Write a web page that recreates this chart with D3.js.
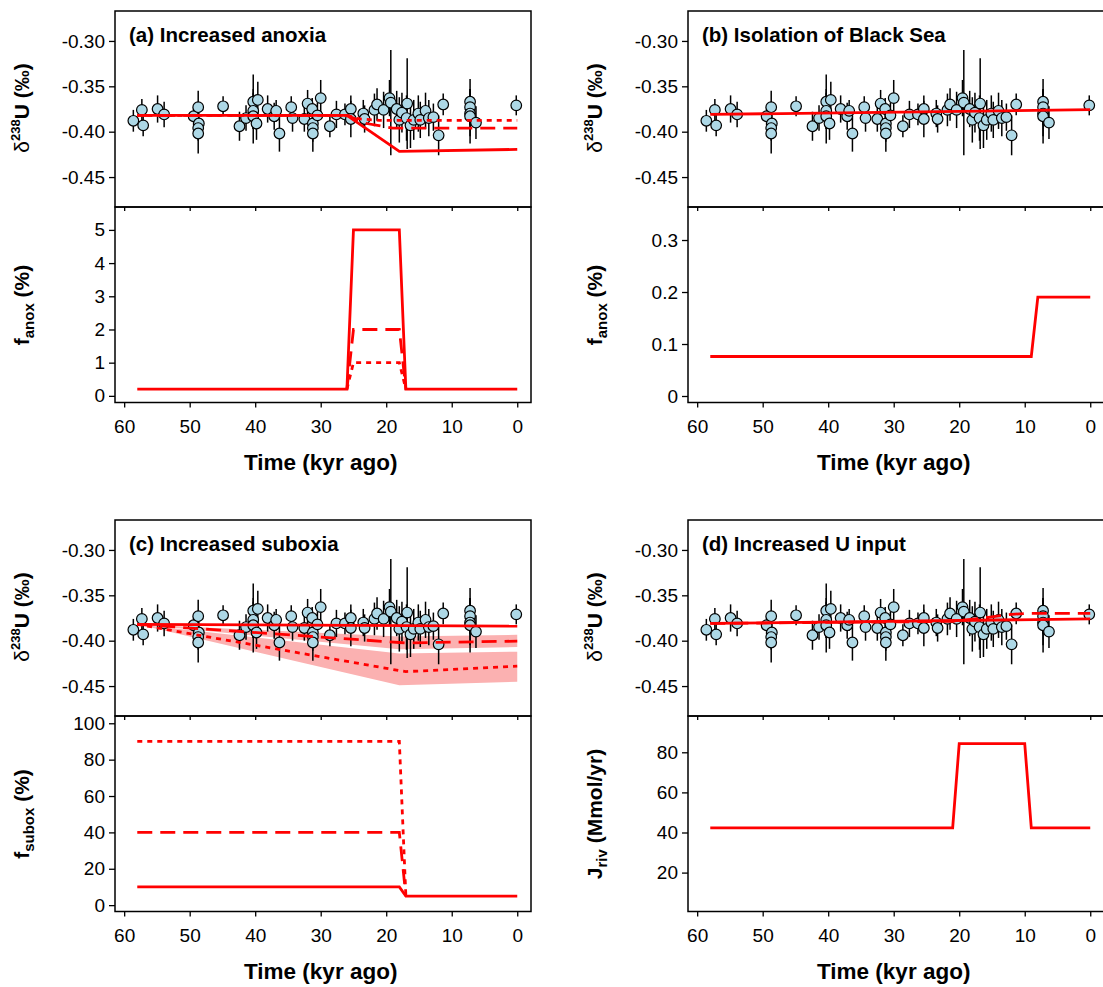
<!DOCTYPE html>
<html>
<head>
<meta charset="utf-8">
<script src="https://cdn.jsdelivr.net/npm/d3@7"></script>
<style>
  body { margin: 0; background: #fff; }
  svg text { font-family: "Liberation Sans", Arial, Helvetica, sans-serif; fill: #000; }
</style>
</head>
<body>
<svg id="fig" width="1103" height="987"></svg>
<script>
// measured d238U record (age kyr, value permil, 1 sd error)
var ages = [58.6,57.3,57.1,54.9,53.9,49.4,48.7,48.6,48.7,48.7,44.9,42.4,41.4,40.3,39.6,40.3,40.3,39.8,38.1,37.1,
  36.8,36.3,34.5,34.3,32.5,32.0,31.3,31.2,31.2,31.2,30.5,30.0,28.6,27.6,26.3,25.4,25.4,23.5,23.3,21.8,
  21.4,20.4,19.5,19.3,18.4,18.0,17.6,16.8,16.9,16.3,15.8,15.1,14.8,14.0,13.5,12.8,12.0,11.3,7.2,7.2,
  7.2,7.2,6.3,0.15];
var d238U = [-0.388,-0.376,-0.393,-0.375,-0.381,-0.383,-0.373,-0.391,-0.396,-0.402,-0.372,-0.394,-0.385,-0.367,-0.365,-0.377,-0.383,-0.391,-0.375,-0.383,
  -0.377,-0.402,-0.373,-0.385,-0.386,-0.369,-0.375,-0.391,-0.396,-0.402,-0.382,-0.363,-0.394,-0.381,-0.381,-0.375,-0.386,-0.380,-0.386,-0.376,
  -0.370,-0.376,-0.363,-0.368,-0.375,-0.387,-0.379,-0.369,-0.385,-0.393,-0.387,-0.380,-0.387,-0.377,-0.385,-0.384,-0.404,-0.370,-0.367,-0.373,
  -0.380,-0.383,-0.390,-0.371];
var d238Uerr = [0.012,0.012,0.012,0.015,0.014,0.010,0.018,0.014,0.014,0.022,0.011,0.016,0.014,0.030,0.020,0.020,0.030,0.018,0.015,0.015,
  0.012,0.020,0.012,0.015,0.014,0.015,0.012,0.015,0.015,0.020,0.014,0.020,0.012,0.015,0.012,0.015,0.020,0.015,0.015,0.018,
  0.018,0.020,0.020,0.058,0.020,0.025,0.022,0.050,0.025,0.025,0.022,0.020,0.020,0.020,0.020,0.015,0.022,0.012,0.025,0.020,
  0.025,0.030,0.018,0.011];

var xTicks = [60, 50, 40, 30, 20, 10, 0];
var topTicks = [-0.30, -0.35, -0.40, -0.45];

// (a) increased anoxia
var aTopSolid  = [[58,-0.382],[26,-0.382],[18,-0.4217],[0,-0.4195]];
var aTopDashed = [[58,-0.382],[26,-0.382],[23,-0.391],[19,-0.396],[0,-0.396]];
var aTopDotted = [[58,-0.382],[26,-0.382],[24,-0.386],[21,-0.3875],[0,-0.3875]];
var aFSolid  = [[58,0.2],[26,0.2],[25,5],[18,5],[17,0.2],[0,0.2]];
var aFDashed = [[26,0.2],[25,2],[18,2],[17,0.2]];
var aFDotted = [[26,0.2],[25,1],[18,1],[17,0.2]];
var aTicks = [0, 1, 2, 3, 4, 5];

// (b) isolation of Black Sea
var bTopSolid = [[58,-0.381],[0,-0.3757]];
var bFSolid = [[58,0.076],[9,0.076],[8,0.19],[0,0.19]];
var bTicks = [0, 0.1, 0.2, 0.3];

// (c) increased suboxia
var cTopSolid  = [[58,-0.382],[0,-0.384]];
var cTopDashed = [[58,-0.382],[18,-0.402],[17,-0.4025],[0,-0.4005]];
var cTopDotted = [[58,-0.382],[18,-0.433],[17,-0.434],[12,-0.4325],[0,-0.428]];
var cBandDashed = [[58,-0.382,-0.382],[18,-0.3955,-0.4095],[0,-0.3935,-0.4070]];
var cBandDotted = [[58,-0.382,-0.382],[18,-0.414,-0.449],[0,-0.4121,-0.4452]];
var cFSolid  = [[58,10],[18,10],[17,5],[0,5]];
var cFDashed = [[58,40],[18,40],[17,5]];
var cFDotted = [[58,90],[18,90],[17,5]];
var cTicks = [0, 20, 40, 60, 80, 100];

// (d) increased U input
var dTopSolid  = [[58,-0.381],[0,-0.376]];
var dTopDashed = [[58,-0.381],[21,-0.3787],[17,-0.3755],[12,-0.371],[10,-0.370],[0,-0.370]];
var dJSolid = [[58,42.3],[21,42.3],[20,84.3],[10,84.3],[9,42.3],[0,42.3]];
var dTicks = [20, 40, 60, 80];

var svg = d3.select('#fig');
var RED = '#ff0000';
var dashStyle = { solid: null, dashed: '15,8', dotted: '5,5' };

var panels = [
  { col: [115, 531], row: 0, title: '(a) Increased anoxia',
    lines: { solid: aTopSolid, dashed: aTopDashed, dotted: aTopDotted }, bands: [],
    bDomain: [-0.2, 5.69], bTicks: aTicks, bFormat: d3.format('d'),
    bLines: { solid: aFSolid, dashed: aFDashed, dotted: aFDotted },
    bLabel: ['f', 'anox', ' (%)'] },
  { col: [688, 1104], row: 0, title: '(b) Isolation of Black Sea',
    lines: { solid: bTopSolid }, bands: [],
    bDomain: [-0.0125, 0.3635], bTicks: bTicks, bFormat: function (d) { return d === 0 ? '0' : d.toFixed(1); },
    bLines: { solid: bFSolid },
    bLabel: ['f', 'anox', ' (%)'] },
  { col: [115, 531], row: 509, title: '(c) Increased suboxia',
    lines: { solid: cTopSolid, dashed: cTopDashed, dotted: cTopDotted }, bands: [cBandDashed, cBandDotted],
    bDomain: [-3.5, 104], bTicks: cTicks, bFormat: d3.format('d'),
    bLines: { solid: cFSolid, dashed: cFDashed, dotted: cFDotted },
    bLabel: ['f', 'subox', ' (%)'] },
  { col: [688, 1104], row: 509, title: '(d) Increased U input',
    lines: { solid: dTopSolid, dashed: dTopDashed }, bands: [],
    bDomain: [0.6, 98.1], bTicks: dTicks, bFormat: d3.format('d'),
    bLines: { solid: dJSolid },
    bLabel: ['J', 'riv', ' (Mmol/yr)'] }
];

panels.forEach(drawPanel);

function styleAxis(g) {
  g.select('.domain').remove();
  g.attr('font-size', 19).attr('font-family', '"Liberation Sans", Arial, sans-serif');
  g.selectAll('.tick line').attr('stroke', '#000').attr('stroke-width', 1.3);
}

function drawPanel(p) {
  var x0 = p.col[0], x1 = p.col[1];
  var top0 = p.row + 11, mid = p.row + 207, bot = p.row + 402.5;
  var x = d3.scaleLinear().domain([61.4, -2.1]).range([x0, x1]);
  var yTop = d3.scaleLinear().domain([-0.483, -0.267]).range([mid, top0]);
  var yBot = d3.scaleLinear().domain(p.bDomain).range([bot, mid]);
  var g = svg.append('g');

  // upper panel: model uncertainty bands
  var area = d3.area().x(function (d) { return x(d[0]); })
    .y0(function (d) { return yTop(d[1]); }).y1(function (d) { return yTop(d[2]); });
  p.bands.forEach(function (b) {
    g.append('path').attr('d', area(b)).attr('fill', '#fbb1b1').attr('stroke', 'none');
  });

  // data with error bars
  var pts = d3.range(ages.length);
  g.selectAll('.err').data(pts).enter().append('line')
    .attr('x1', function (i) { return x(ages[i]); })
    .attr('x2', function (i) { return x(ages[i]); })
    .attr('y1', function (i) { return yTop(d238U[i] - d238Uerr[i]); })
    .attr('y2', function (i) { return yTop(d238U[i] + d238Uerr[i]); })
    .attr('stroke', '#000').attr('stroke-width', 1.5);
  g.selectAll('.pt').data(pts).enter().append('circle')
    .attr('cx', function (i) { return x(ages[i]); })
    .attr('cy', function (i) { return yTop(d238U[i]); })
    .attr('r', 5.3)
    .attr('fill', '#add8e6').attr('stroke', '#000').attr('stroke-width', 1.2);

  // model lines
  var lineTop = d3.line().x(function (d) { return x(d[0]); }).y(function (d) { return yTop(d[1]); });
  var lineBot = d3.line().x(function (d) { return x(d[0]); }).y(function (d) { return yBot(d[1]); });
  ['dotted', 'dashed', 'solid'].forEach(function (k) {
    if (p.lines[k]) {
      g.append('path').attr('d', lineTop(p.lines[k])).attr('fill', 'none')
        .attr('stroke', RED).attr('stroke-width', 2.8).attr('stroke-dasharray', dashStyle[k]);
    }
    if (p.bLines[k]) {
      g.append('path').attr('d', lineBot(p.bLines[k])).attr('fill', 'none')
        .attr('stroke', RED).attr('stroke-width', 2.8).attr('stroke-dasharray', dashStyle[k]);
    }
  });

  // frames
  g.append('rect').attr('x', x0).attr('y', top0).attr('width', x1 - x0).attr('height', mid - top0)
    .attr('fill', 'none').attr('stroke', '#000').attr('stroke-width', 1.5);
  g.append('rect').attr('x', x0).attr('y', mid).attr('width', x1 - x0).attr('height', bot - mid)
    .attr('fill', 'none').attr('stroke', '#000').attr('stroke-width', 1.5);

  // axes
  g.append('g').attr('transform', 'translate(' + x0 + ',0)')
    .call(d3.axisLeft(yTop).tickValues(topTicks).tickSize(6).tickPadding(4)
      .tickFormat(function (d) { return d.toFixed(2); }))
    .call(styleAxis);
  g.append('g').attr('transform', 'translate(' + x0 + ',0)')
    .call(d3.axisLeft(yBot).tickValues(p.bTicks).tickSize(6).tickPadding(4).tickFormat(p.bFormat))
    .call(styleAxis);
  g.append('g').attr('transform', 'translate(0,' + bot + ')')
    .call(d3.axisBottom(x).tickValues(xTicks).tickSize(5).tickPadding(12).tickFormat(d3.format('d')))
    .call(styleAxis);
  g.append('g').attr('transform', 'translate(0,' + mid + ')')
    .call(d3.axisBottom(x).tickValues(xTicks).tickSize(4).tickFormat(''))
    .call(styleAxis);

  // labels
  g.append('text').attr('x', x0 + 14).attr('y', top0 + 31)
    .attr('font-size', 20.5).attr('font-weight', 'bold').text(p.title);

  g.append('text').attr('x', (x(60) + x(0)) / 2).attr('y', p.row + 470)
    .attr('text-anchor', 'middle').attr('font-size', 22.5).attr('font-weight', 'bold')
    .text('Time (kyr ago)');

  var lx = x0 - 86;
  var t1 = g.append('text').attr('transform', 'translate(' + lx + ',' + (p.row + 108) + ') rotate(-90)')
    .attr('text-anchor', 'middle').attr('font-size', 21).attr('font-weight', 'bold');
  t1.append('tspan').attr('font-weight', 'normal').text('\u03b4');
  t1.append('tspan').attr('font-size', 13).attr('dy', -9).text('238');
  t1.append('tspan').attr('dy', 9).text('U (\u2030)');

  var t2 = g.append('text').attr('transform', 'translate(' + lx + ',' + (p.row + 305) + ') rotate(-90)')
    .attr('text-anchor', 'middle').attr('font-size', 21).attr('font-weight', 'bold');
  t2.append('tspan').text(p.bLabel[0]);
  t2.append('tspan').attr('font-size', 15).attr('dy', 5).text(p.bLabel[1]);
  t2.append('tspan').attr('dy', -5).text(p.bLabel[2]);
}
</script>
</body>
</html>
